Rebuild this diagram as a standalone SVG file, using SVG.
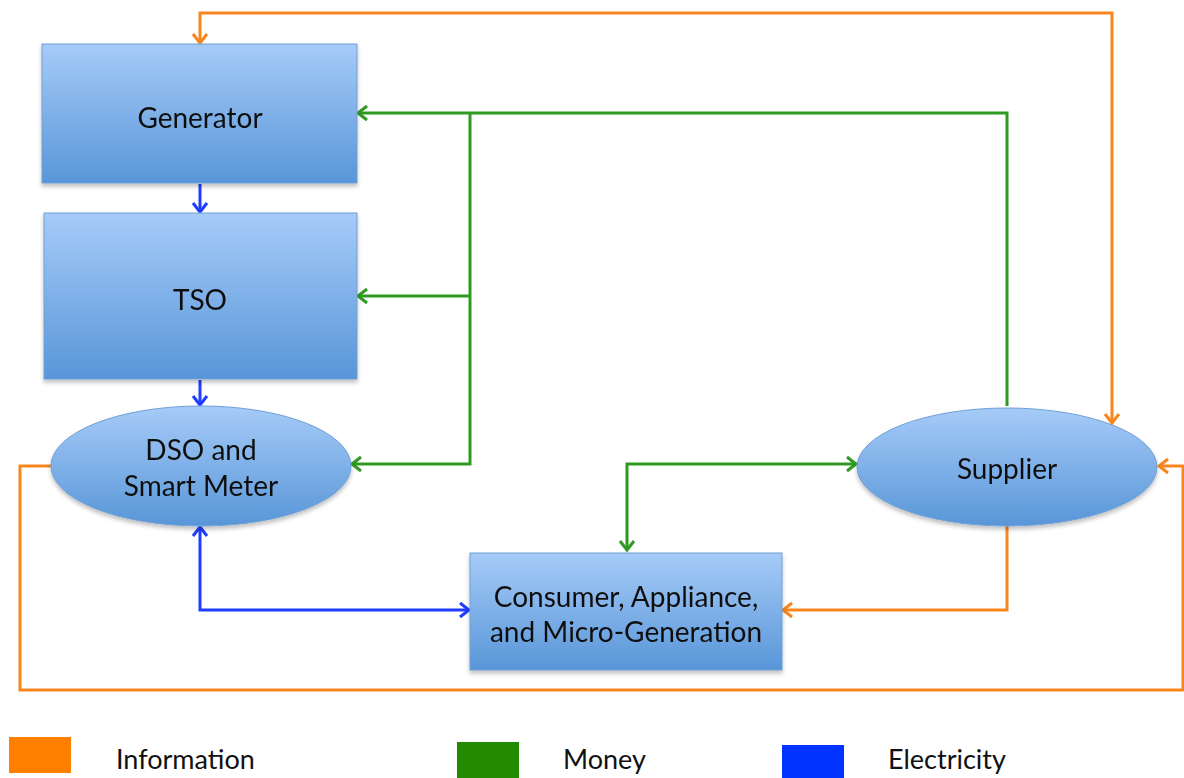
<svg xmlns="http://www.w3.org/2000/svg" width="1184" height="778" viewBox="0 0 1184 778">
<style>
.node{fill:url(#g);stroke:#6f9fd6;stroke-width:1}
.lbl{font-family:Lato,"Open Sans",sans-serif;font-size:28px;fill:#111;text-anchor:middle}
.leg{font-family:Lato,"Open Sans",sans-serif;font-size:27px;fill:#111}
.c{fill:none;stroke-width:3;stroke-linejoin:miter}
.o{stroke:#f7861f}.gr{stroke:#2f9a22}.b{stroke:#1f3dff}
</style>
<defs>
<linearGradient id="g" x1="0" y1="0" x2="0" y2="1">
<stop offset="0" stop-color="#a6cbf8"/>
<stop offset="1" stop-color="#5896d8"/>
</linearGradient>
<filter id="sh" x="-10%" y="-10%" width="120%" height="130%">
<feDropShadow dx="0" dy="3" stdDeviation="2" flood-color="#000" flood-opacity="0.25"/>
</filter>
<marker id="ao" markerUnits="userSpaceOnUse" markerWidth="20" markerHeight="20" refX="12" refY="10" orient="auto-start-reverse"><path d="M3,3 L12,10 L3,17" fill="none" stroke="#f7861f" stroke-width="3"/></marker>
<marker id="ag" markerUnits="userSpaceOnUse" markerWidth="20" markerHeight="20" refX="12" refY="10" orient="auto-start-reverse"><path d="M3,3 L12,10 L3,17" fill="none" stroke="#2f9a22" stroke-width="3"/></marker>
<marker id="ab" markerUnits="userSpaceOnUse" markerWidth="20" markerHeight="20" refX="12" refY="10" orient="auto-start-reverse"><path d="M3,3 L12,10 L3,17" fill="none" stroke="#1f3dff" stroke-width="3"/></marker>
</defs>
<rect width="1184" height="778" fill="#fff"/>
<g id="connectors">
<path class="c o" d="M200,43 V13 H1112 V423" marker-start="url(#ao)" marker-end="url(#ao)"/>
<path class="c o" d="M51,466 H20 V690 H1183 V466 H1159" marker-end="url(#ao)"/>
<path class="c o" d="M1007,526 V610 H783" marker-end="url(#ao)"/>
<path class="c gr" d="M1007,406 V113 H358" marker-end="url(#ag)"/>
<path class="c gr" d="M470,113 V464 H352" marker-end="url(#ag)"/>
<path class="c gr" d="M470,296 H358" marker-end="url(#ag)"/>
<path class="c gr" d="M627,550 V464 H856" marker-start="url(#ag)" marker-end="url(#ag)"/>
<path class="c b" d="M200,184 V212" marker-end="url(#ab)"/>
<path class="c b" d="M200,380 V405" marker-end="url(#ab)"/>
<path class="c b" d="M200,527 V610 H469" marker-start="url(#ab)" marker-end="url(#ab)"/>
</g>
<g id="generator" filter="url(#sh)"><rect class="node" x="42" y="44" width="315" height="139"/><text class="lbl" x="200" y="128">Generator</text></g>
<g id="tso" filter="url(#sh)"><rect class="node" x="44" y="213" width="313" height="166"/><text class="lbl" x="200" y="310">TSO</text></g>
<g id="dso" filter="url(#sh)"><ellipse class="node" cx="201" cy="466" rx="150" ry="60"/><text class="lbl" x="201" y="460">DSO and</text><text class="lbl" x="201" y="496">Smart Meter</text></g>
<g id="supplier" filter="url(#sh)"><ellipse class="node" cx="1007" cy="467" rx="150" ry="59"/><text class="lbl" x="1007" y="479">Supplier</text></g>
<g id="consumer" filter="url(#sh)"><rect class="node" x="470" y="553" width="312" height="117"/><text class="lbl" x="626" y="607">Consumer, Appliance,</text><text class="lbl" x="626" y="642">and Micro-Generation</text></g>
<g id="legend">
<rect x="9" y="737" width="62" height="36" fill="#ff7f00"/>
<rect x="457" y="742" width="62" height="36" fill="#228b00"/>
<rect x="782" y="745" width="62" height="33" fill="#0033ff"/>
<text class="leg" x="116" y="769">Information</text>
<text class="leg" x="563" y="769">Money</text>
<text class="leg" x="888" y="769">Electricity</text>
</g>
</svg>
